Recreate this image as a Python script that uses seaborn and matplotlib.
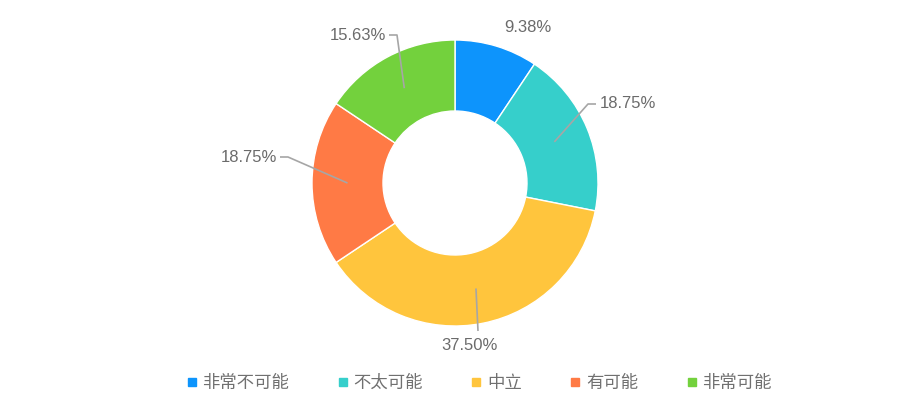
import numpy as np
import matplotlib
matplotlib.use('Agg')
import matplotlib.pyplot as plt
import seaborn as sns

# data
categories = ['非常不可能', '不太可能', '中立', '有可能', '非常可能']
percents = [9.38, 18.75, 37.50, 18.75, 15.63]
colors = ['#0d94fc', '#36cfcb', '#ffc53d', '#ff7a45', '#73d13d']

sns.set_theme(style='white')
plt.rcParams['font.family'] = ['Noto Sans CJK SC', 'DejaVu Sans']

W, H = 910, 404
fig = plt.figure(figsize=(W / 100, H / 100), dpi=100)
ax = fig.add_axes([0, 0, 1, 1])

cx, cy, R, ring = 455, H - 183, 143, 71
wedges, _ = ax.pie(percents, colors=sns.color_palette(colors), startangle=90,
                   counterclock=False, radius=R, center=(cx, cy),
                   wedgeprops=dict(width=ring, edgecolor='white', linewidth=1))
ax.set_xlim(0, W)
ax.set_ylim(0, H)
ax.set_aspect('equal')
ax.axis('off')

# label layout (text anchor in image pixels, alignment, draw leader)
label_pos = [(528, 28, 'center', False),
             (600, 104, 'left', True),
             (470, 346, 'center', True),
             (277, 158, 'right', True),
             (386, 36, 'right', True)]

num_font = ['Liberation Sans Narrow', 'Liberation Sans', 'DejaVu Sans']
for w, p, (tx, ty, ha, lead) in zip(wedges, percents, label_pos):
    ang = np.deg2rad((w.theta1 + w.theta2) / 2)
    rm = R - ring / 2
    ax_, ay_ = cx + rm * np.cos(ang), cy + rm * np.sin(ang)
    ty = H - ty
    if lead:
        if ha == 'left':
            pts = [(ax_, ay_), (tx - 12, ty), (tx - 4, ty)]
        elif ha == 'right':
            pts = [(ax_, ay_), (tx + 11, ty + 1), (tx + 3, ty + 1)]
        else:
            pts = [(ax_, ay_), (tx + 8, ty + 15)]
        xs, ys = zip(*pts)
        ax.plot(xs, ys, color='#a6a6a6', lw=1.2, solid_capstyle='butt')
    ax.text(tx, ty, f'{p:.2f}%', ha=ha, va='center', fontsize=12,
            color='#6b6b6b', family=num_font)

handles = [plt.Line2D([], [], marker='s', ls='', markersize=6, color=c) for c in colors]
ax.legend(handles, categories, loc='center', bbox_to_anchor=(479 / W, 1 - 383 / H),
          ncol=5, frameon=False, fontsize=12.5, handlelength=0.6, handletextpad=0.3,
          columnspacing=2.8, labelcolor='#707070')

fig.savefig('out.png', dpi=100)
